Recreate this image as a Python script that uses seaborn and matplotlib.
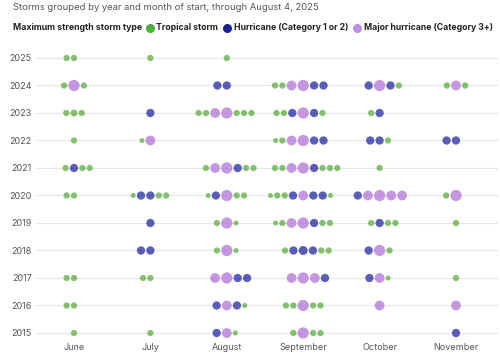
import numpy as np
import pandas as pd
import matplotlib
matplotlib.use("Agg")
import matplotlib.pyplot as plt
import seaborn as sns
from matplotlib.lines import Line2D

# ---------------- data ----------------
months = ["June", "July", "August", "September", "October", "November"]
years = [2025, 2024, 2023, 2022, 2021, 2020, 2019, 2018, 2017, 2016, 2015]
# storm codes per month (June..November), in left-to-right order
# s/g/G: tropical storm (small/normal/larger), b/B: hurricane cat 1-2, m/M: major hurricane
storms_2025 = ["gg", "g", "g", "", "", ""]
storms_2024 = ["gMg", "", "bb", "ggmMbb", "bMbg", "gmg"]
storms_2023 = ["gGg", "b", "ggmMggg", "ggbMbg", "gb", ""]
storms_2022 = ["g", "sm", "", "sgmMbb", "bbg", "bb"]
storms_2021 = ["gbgg", "", "gmMbgg", "ggmMbggg", "g", ""]
storms_2020 = ["gg", "sbbgg", "sbMgg", "sggbmbbs", "bmMmm", "gM"]
storms_2019 = ["", "b", "gMs", "sgmMbgg", "gbgg", "g"]
storms_2018 = ["", "bb", "gMs", "gbBbgg", "bMg", ""]
storms_2017 = ["gg", "gg", "mMbb", "mMmb", "bms", "g"]
storms_2016 = ["gg", "", "bmbs", "ggMgg", "m", "m"]
storms_2015 = ["g", "g", "bms", "gMgg", "", "b"]

by_year = {2025: storms_2025, 2024: storms_2024, 2023: storms_2023, 2022: storms_2022,
           2021: storms_2021, 2020: storms_2020, 2019: storms_2019, 2018: storms_2018,
           2017: storms_2017, 2016: storms_2016, 2015: storms_2015}

categories = ["Tropical storm", "Hurricane (Category 1 or 2)", "Major hurricane (Category 3+)"]
code_type = {"s": categories[0], "g": categories[0], "G": categories[0],
             "b": categories[1], "B": categories[1],
             "m": categories[2], "M": categories[2]}

# ---------------- style ----------------
W, H = 500, 360
DPI = 100
diam_px = {"s": 5.0, "g": 6.3, "G": 7.0, "b": 8.3, "B": 9.0, "m": 9.8, "M": 11.3}
gap_px = 1.1
palette = {categories[0]: "#63b046", categories[1]: "#2b33a3", categories[2]: "#b57ad9"}
legend_colors = {categories[0]: "#4caf3e", categories[1]: "#1c228f", categories[2]: "#c08ee0"}

ax_left_px, ax_right_px, ax_top_px, ax_bot_px = 36, 498, 47, 340
x0_px, x5_px = 74, 456
px_per_month = (x5_px - x0_px) / 5
xlim = ((ax_left_px - x0_px) / px_per_month, (ax_right_px - x0_px) / px_per_month)
px_per_year = (333 - 58) / 10
ylim = (2015 - (ax_bot_px - 333) / px_per_year, 2025 + (58 - ax_top_px) / px_per_year)

# ---------------- build table ----------------
rows = []
for yr in years:
    for mi, codes in enumerate(by_year[yr]):
        if not codes:
            continue
        d = [diam_px[c] for c in codes]
        mx = max(d)
        anchor = max(i for i, v in enumerate(d) if v == mx)
        pos = [0.0] * len(d)
        for i in range(anchor + 1, len(d)):
            pos[i] = pos[i - 1] + (d[i - 1] + d[i]) / 2 + gap_px
        for i in range(anchor - 1, -1, -1):
            pos[i] = pos[i + 1] - (d[i + 1] + d[i]) / 2 - gap_px
        for c, p in zip(codes, pos):
            rows.append({"year": yr, "x": mi + p / px_per_month,
                         "type": code_type[c], "code": c})
df = pd.DataFrame(rows)
sizes = {c: (v * 0.72) ** 2 for c, v in diam_px.items()}

# ---------------- plot ----------------
sns.set_theme(style="white")
plt.rcParams["font.family"] = ["Inter", "DejaVu Sans"]

fig = plt.figure(figsize=(W / DPI, H / DPI), dpi=DPI)
ax = fig.add_axes([ax_left_px / W, 1 - ax_bot_px / H,
                   (ax_right_px - ax_left_px) / W, (ax_bot_px - ax_top_px) / H])

sns.scatterplot(data=df, x="x", y="year", hue="type", palette=palette,
                size="code", sizes=sizes, linewidth=0, alpha=0.78,
                legend=False, ax=ax, zorder=3)

ax.set_xlim(*xlim)
ax.set_ylim(*ylim)
ax.set_xticks(range(len(months)))
ax.set_xticklabels(months)
ax.set_yticks(years)
ax.set_yticklabels([str(y) for y in years])
ax.set_xlabel("")
ax.set_ylabel("")
for s in ax.spines.values():
    s.set_visible(False)
ax.tick_params(axis="both", length=0, labelsize=6.5, colors="#555555")
ax.tick_params(axis="y", pad=3)
ax.tick_params(axis="x", pad=2)
ax.yaxis.grid(True, color="#e6e6e6", linewidth=0.8)
ax.xaxis.grid(False)
ax.set_axisbelow(True)

fig.text(13 / W, 1 - 8 / H, "Storms grouped by year and month of start, through August 4, 2025",
         fontsize=6.8, color="#555555", va="center", ha="left")
fig.text(13 / W, 1 - 28 / H, "Maximum strength storm type",
         fontsize=6.3, color="#222222", fontweight="bold", va="center", ha="left")

# legend entries laid out inline, like the reference
marker_x_px = [150, 227, 357]
for cat, mx in zip(categories, marker_x_px):
    fig.add_artist(Line2D([mx / W], [1 - 28 / H], marker="o", linestyle="",
                          markersize=6.5, markerfacecolor=legend_colors[cat],
                          markeredgewidth=0, transform=fig.transFigure))
    fig.text((mx + 6.5) / W, 1 - 28 / H, cat, fontsize=6.25, color="#222222",
             fontweight="bold", va="center", ha="left")

fig.savefig("out.png", dpi=DPI)
